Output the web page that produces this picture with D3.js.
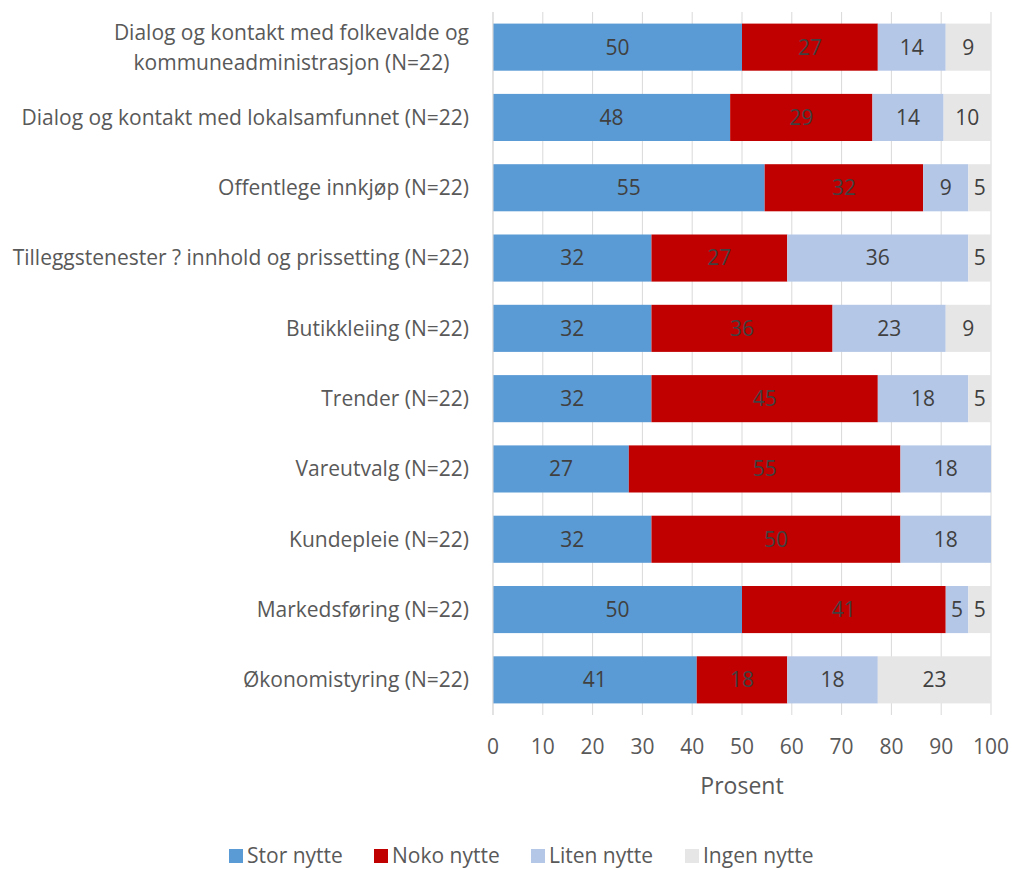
<!DOCTYPE html>
<html>
<head>
<meta charset="utf-8">
<script src="https://cdn.jsdelivr.net/npm/d3@7"></script>
<style>
  body { margin: 0; background: #fff; }
  text { font-family: "Open Sans", sans-serif; }
</style>
</head>
<body>
<div id="chart"></div>
<script>
// categories, top to bottom
var categories = [
    "Dialog og kontakt med folkevalde og\nkommuneadministrasjon (N=22)",
    "Dialog og kontakt med lokalsamfunnet (N=22)",
    "Offentlege innkjøp (N=22)",
    "Tilleggstenester ? innhold og prissetting (N=22)",
    "Butikkleiing (N=22)",
    "Trender (N=22)",
    "Vareutvalg (N=22)",
    "Kundepleie (N=22)",
    "Markedsføring (N=22)",
    "Økonomistyring (N=22)"
];

var seriesNames = ["Stor nytte", "Noko nytte", "Liten nytte", "Ingen nytte"];
var seriesColors = ["#5B9BD5", "#C00000", "#B4C7E7", "#E7E6E6"];

// percent per category
var storNytte  = [50,    47.62, 54.55, 31.82, 31.82, 31.82, 27.27, 31.82, 50,    40.91];
var nokoNytte  = [27.27, 28.57, 31.82, 27.27, 36.36, 45.45, 54.55, 50,    40.91, 18.18];
var litenNytte = [13.64, 14.29, 9.09,  36.36, 22.73, 18.18, 18.18, 18.18, 4.55,  18.18];
var ingenNytte = [9.09,  9.52,  4.55,  4.55,  9.09,  4.55,  0,     0,     4.55,  22.73];

var xTicks = [0, 10, 20, 30, 40, 50, 60, 70, 80, 90, 100];

var margin = { top: 12, right: 21, bottom: 154, left: 493 },
    width = 1012 - margin.left - margin.right,
    height = 869 - margin.top - margin.bottom;

var rows = categories.map(function (c, i) {
    return { cat: c, "Stor nytte": storNytte[i], "Noko nytte": nokoNytte[i],
             "Liten nytte": litenNytte[i], "Ingen nytte": ingenNytte[i] };
});

var svg = d3.select("#chart")
    .append("svg")
    .attr("width", 1012)
    .attr("height", 869);

var g = svg.append("g")
    .attr("transform", "translate(" + margin.left + "," + margin.top + ")");

var x = d3.scaleLinear().domain([0, 100]).range([0, width]);
var y = d3.scaleBand().domain(categories).range([0, height]).paddingInner(0.33).paddingOuter(0.165);
var color = d3.scaleOrdinal().domain(seriesNames).range(seriesColors);

// gridlines
g.append("g")
    .selectAll("line")
    .data(xTicks)
    .enter()
    .append("line")
    .attr("x1", function (d) { return x(d); })
    .attr("x2", function (d) { return x(d); })
    .attr("y1", 0)
    .attr("y2", height)
    .attr("stroke", "#D9D9D9")
    .attr("stroke-width", 1);

// stacked bars
var stack = d3.stack().keys(seriesNames);
var layers = stack(rows);

var layer = g.selectAll(".layer")
    .data(layers)
    .enter()
    .append("g")
    .attr("fill", function (d) { return color(d.key); });

layer.selectAll("rect")
    .data(function (d) { return d; })
    .enter()
    .append("rect")
    .attr("x", function (d) { return x(d[0]); })
    .attr("y", function (d) { return y(d.data.cat); })
    .attr("width", function (d) { return x(d[1]) - x(d[0]); })
    .attr("height", y.bandwidth());

// value labels
layer.selectAll("text")
    .data(function (d) { return d.filter(function (p) { return p[1] - p[0] > 0; }); })
    .enter()
    .append("text")
    .attr("x", function (d) { return (x(d[0]) + x(d[1])) / 2; })
    .attr("y", function (d) { return y(d.data.cat) + y.bandwidth() / 2; })
    .attr("dy", "0.35em")
    .attr("text-anchor", "middle")
    .attr("fill", "#404040")
    .style("font-size", "21px")
    .text(function (d) { return Math.round(d[1] - d[0]); });

// y axis line
g.append("line")
    .attr("x1", 0).attr("x2", 0)
    .attr("y1", 0).attr("y2", height)
    .attr("stroke", "#D9D9D9");

// category labels
var labelRight = -24;
categories.forEach(function (c) {
    var lines = c.split("\n");
    var cy = y(c) + y.bandwidth() / 2;
    var t = g.append("text")
        .attr("fill", "#595959")
        .style("font-size", "21px");
    lines.forEach(function (ln, k) {
        t.append("tspan")
            .attr("y", cy + (k - (lines.length - 1) / 2) * 30)
            .attr("dy", "0.35em")
            .text(ln);
    });
    if (lines.length > 1) {
        // center lines inside a right aligned block
        var spans = t.selectAll("tspan").nodes();
        var w = d3.max(spans, function (s) { return s.getComputedTextLength(); });
        t.attr("text-anchor", "middle");
        t.selectAll("tspan").attr("x", labelRight - w / 2);
    } else {
        t.attr("text-anchor", "end");
        t.selectAll("tspan").attr("x", labelRight);
    }
});

// x tick labels
g.append("g")
    .selectAll("text")
    .data(xTicks)
    .enter()
    .append("text")
    .attr("x", function (d) { return x(d); })
    .attr("y", height + 32)
    .attr("dy", "0.35em")
    .attr("text-anchor", "middle")
    .attr("fill", "#595959")
    .style("font-size", "21px")
    .text(function (d) { return d; });

// x axis title
g.append("text")
    .attr("x", width / 2)
    .attr("y", height + 71)
    .attr("dy", "0.35em")
    .attr("text-anchor", "middle")
    .attr("fill", "#595959")
    .style("font-size", "23px")
    .text("Prosent");

// legend
var legendX = [229, 374, 531, 685];
var legend = svg.append("g")
    .selectAll("g")
    .data(seriesNames)
    .enter()
    .append("g")
    .attr("transform", function (d, i) { return "translate(" + legendX[i] + ",856)"; });

legend.append("rect")
    .attr("x", 0)
    .attr("y", -7)
    .attr("width", 14)
    .attr("height", 14)
    .attr("fill", function (d) { return color(d); });

legend.append("text")
    .attr("x", 18)
    .attr("y", 0)
    .attr("dy", "0.35em")
    .attr("fill", "#595959")
    .style("font-size", "21px")
    .text(function (d) { return d; });
</script>
</body>
</html>
